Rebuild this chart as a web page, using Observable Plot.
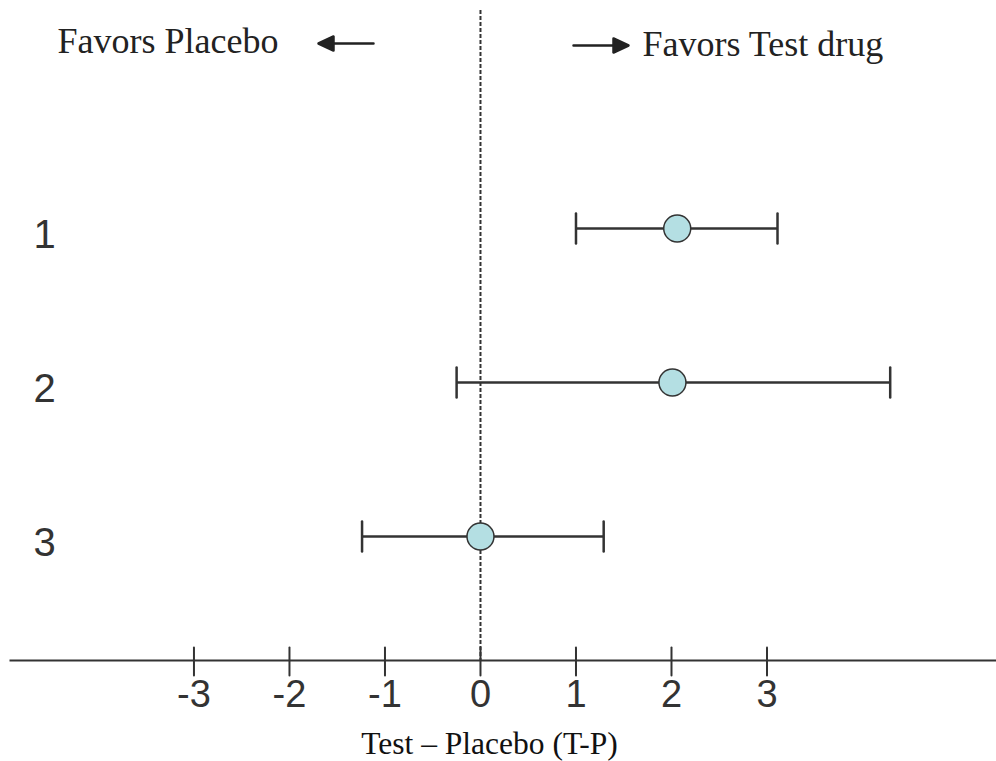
<!DOCTYPE html>
<html><head><meta charset="utf-8">
<script src="https://cdn.jsdelivr.net/npm/d3@7"></script>
<script src="https://cdn.jsdelivr.net/npm/@observablehq/plot@0.6"></script>
<style>html,body{margin:0;padding:0;background:#fff;} #chart svg{display:block;}</style>
</head><body><div id="chart"></div>
<script>
const rows = ["1", "2", "3"];
const estimate = [2.06, 2.01, 0.0];
const lower = [1.0, -0.25, -1.24];
const upper = [3.11, 4.29, 1.29];
const tickValues = [-3, -2, -1, 0, 1, 2, 3];
const leftNote = "Favors Placebo";
const rightNote = "Favors Test drug";
const xTitle = "Test \u2013 Placebo (T-P)";

const table = rows.map((r, i) => ({row: r, est: estimate[i], lo: lower[i], hi: upper[i]}));

const lineShape = {draw(ctx, l) { ctx.moveTo(0, 0); ctx.lineTo(0, -l); }};
const arrowShape = {draw(ctx, l) {
  const h = 15, w = 7;
  ctx.moveTo(0, 0); ctx.lineTo(0, -l + h);
  ctx.moveTo(-w, -l + h); ctx.lineTo(0, -l); ctx.lineTo(w, -l + h); ctx.closePath();
}};
const sans = "Liberation Sans, Arial, sans-serif";
const serif = "Liberation Serif, Times New Roman, serif";

const chart = Plot.plot({
  width: 996, height: 761,
  marginLeft: 10, marginRight: 0, marginTop: 10, marginBottom: 101,
  x: {domain: [-4.921, 5.403]},
  y: {type: "point", domain: rows, range: [228, 536], padding: 0, axis: null},
  style: {background: "#fff"},
  marks: [
    Plot.frame({anchor: "bottom", stroke: "#333", strokeWidth: 2}),
    Plot.ruleX([0], {stroke: "#333", strokeWidth: 2, strokeDasharray: "4,2"}),
    Plot.vector(tickValues, {x: d => d, frameAnchor: "bottom", length: 28, anchor: "middle", rotate: 0, shape: lineShape, dy: 1, stroke: "#333", strokeWidth: 2}),
    Plot.axisX({ticks: tickValues, tickSize: 0, tickPadding: 20, tickFormat: d => String(d), fontSize: 38, fontFamily: sans, fill: "#333", label: null}),
    Plot.ruleY(table, {y: "row", x1: "lo", x2: "hi", stroke: "#333", strokeWidth: 2.5}),
    Plot.vector(table, {x: "lo", y: "row", length: 30, anchor: "middle", rotate: 0, shape: lineShape, stroke: "#333", strokeWidth: 2.5}),
    Plot.vector(table, {x: "hi", y: "row", length: 30, anchor: "middle", rotate: 0, shape: lineShape, stroke: "#333", strokeWidth: 2.5}),
    Plot.dot(table, {x: "est", y: "row", r: 13.5, fill: "#b4dfe3", stroke: "#333", strokeWidth: 1.5}),
    Plot.text(rows, {y: d => d, text: d => d, frameAnchor: "left", dx: 23, dy: 7, textAnchor: "start", fontSize: 40, fontFamily: sans, fill: "#333"}),
    Plot.text([leftNote], {text: d => d, frameAnchor: "top-left", dx: 47, dy: 42, textAnchor: "start", lineAnchor: "bottom", fontSize: 36, fontFamily: serif, fill: "#222"}),
    Plot.text([rightNote], {text: d => d, frameAnchor: "top-left", dx: 632, dy: 45, textAnchor: "start", lineAnchor: "bottom", fontSize: 36, fontFamily: serif, fill: "#222"}),
    Plot.vector([0], {frameAnchor: "top-left", dx: 363, dy: 33, length: 55, rotate: 270, anchor: "start", shape: arrowShape, stroke: "#222", fill: "#222", strokeWidth: 2.5}),
    Plot.vector([0], {frameAnchor: "top-left", dx: 563, dy: 35, length: 55, rotate: 90, anchor: "start", shape: arrowShape, stroke: "#222", fill: "#222", strokeWidth: 2.5}),
    Plot.text([xTitle], {text: d => d, frameAnchor: "bottom", dx: -14, dy: 93, lineAnchor: "bottom", fontSize: 31.5, fontFamily: serif, fill: "#111"})
  ]
});
document.getElementById("chart").appendChild(chart);
</script>
</body></html>
